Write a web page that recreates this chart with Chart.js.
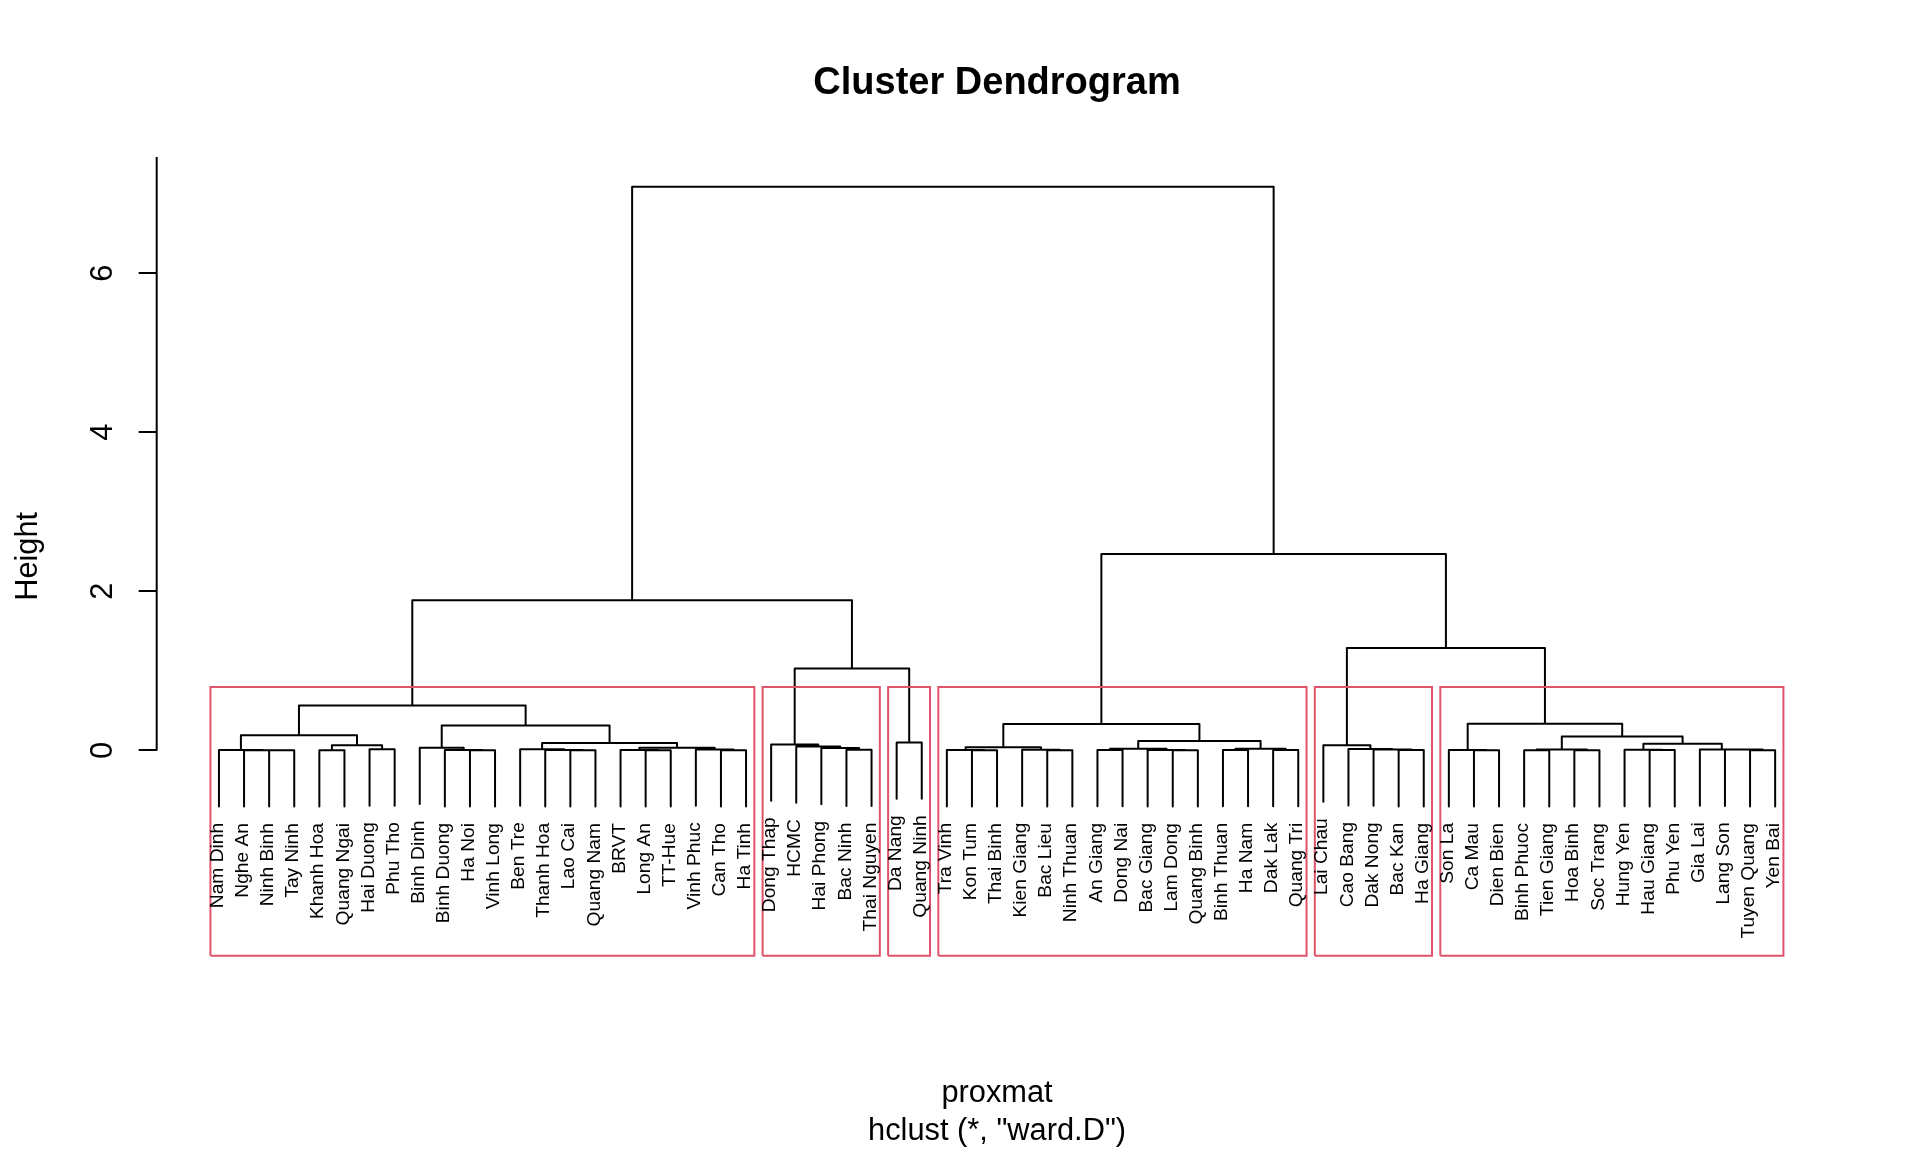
<!DOCTYPE html>
<html>
<head>
<meta charset="utf-8">
<script src="https://cdn.jsdelivr.net/npm/chart.js@4.4.1/dist/chart.umd.min.js"></script>
<style>
html,body{margin:0;padding:0;background:#ffffff;}
#wrap{width:1920px;height:1152px;position:relative;}
</style>
</head>
<body>
<div id="wrap"><canvas id="c"></canvas></div>
<script>
// ---- data (leaf order as drawn, R hclust-style merges: negative = leaf, positive = earlier merge) ----
const leafLabels = [
  "Nam Dinh","Nghe An","Ninh Binh","Tay Ninh","Khanh Hoa","Quang Ngai","Hai Duong","Phu Tho",
  "Binh Dinh","Binh Duong","Ha Noi","Vinh Long","Ben Tre","Thanh Hoa","Lao Cai","Quang Nam",
  "BRVT","Long An","TT-Hue","Vinh Phuc","Can Tho","Ha Tinh",
  "Dong Thap","HCMC","Hai Phong","Bac Ninh","Thai Nguyen",
  "Da Nang","Quang Ninh",
  "Tra Vinh","Kon Tum","Thai Binh","Kien Giang","Bac Lieu","Ninh Thuan","An Giang","Dong Nai",
  "Bac Giang","Lam Dong","Quang Binh","Binh Thuan","Ha Nam","Dak Lak","Quang Tri",
  "Lai Chau","Cao Bang","Dak Nong","Bac Kan","Ha Giang",
  "Son La","Ca Mau","Dien Bien","Binh Phuoc","Tien Giang","Hoa Binh","Soc Trang","Hung Yen",
  "Hau Giang","Phu Yen","Gia Lai","Lang Son","Tuyen Quang","Yen Bai"
];
const merges = [
  [-3,-4],[-2,1],[-1,2],[-5,-6],[-7,-8],[4,5],[3,6],
  [-11,-12],[-10,8],[-9,9],
  [-15,-16],[-14,11],[-13,12],
  [-18,-19],[-17,14],[-21,-22],[-20,16],[15,17],
  [13,18],[10,19],[7,20],
  [-26,-27],[-25,22],[-24,23],[-23,24],
  [-28,-29],[25,26],[21,27],
  [-31,-32],[-30,29],[-34,-35],[-33,31],[30,32],
  [-36,-37],[-39,-40],[-38,35],[34,36],
  [-41,-42],[-43,-44],[38,39],[37,40],[33,41],
  [-48,-49],[-47,43],[-46,44],[-45,45],
  [-51,-52],[-50,47],
  [-53,-54],[-55,-56],[49,50],
  [-58,-59],[-57,52],[-62,-63],[-61,54],[-60,55],[53,56],
  [51,57],[48,58],[46,59],[42,60],[28,61]
];
const mergeHeights = [
  0.002,0.003,0.004,0.003,0.013,0.065,0.19,
  0.002,0.004,0.034,
  0.002,0.004,0.013,
  0.002,0.004,0.003,0.012,0.032,
  0.092,0.314,0.563,
  0.008,0.03,0.05,0.075,
  0.10,1.03,1.887,
  0.002,0.004,0.003,0.008,0.04,
  0.006,0.002,0.004,0.02,
  0.005,0.006,0.02,0.117,0.333,
  0.004,0.012,0.016,0.063,
  0.002,0.004,
  0.003,0.003,0.012,
  0.004,0.007,0.002,0.01,0.012,0.084,
  0.176,0.335,1.287,2.47,7.085
];
const clusterSizes = [22,5,2,15,5,14];
const yTicks = [0,2,4,6];
const yRange = [-2.581, 7.459];
const titleText = "Cluster Dendrogram";
const xTitle = "proxmat";
const subTitle = 'hclust (*, "ward.D")';
const yTitle = "Height";

// ---- build dendrogram segments in data units ----
const nLeaf = leafLabels.length;
const hMax = Math.max(...mergeHeights), hMin = Math.min(...mergeHeights);
const hang = 0.1 * (hMax - hMin);
const nodeX = [];
const leafBottom = new Array(nLeaf + 1);
const treePoints = [];
merges.forEach((m, i) => {
  const h = mergeHeights[i];
  const ends = m.map(c => {
    if (c < 0) { leafBottom[-c] = h - hang; return {x: -c, y: h - hang}; }
    return {x: nodeX[c - 1], y: mergeHeights[c - 1]};
  });
  nodeX[i] = (ends[0].x + ends[1].x) / 2;
  treePoints.push(
    {x: ends[0].x, y: ends[0].y}, {x: ends[0].x, y: h},
    {x: ends[1].x, y: h}, {x: ends[1].x, y: ends[1].y},
    {x: ends[1].x, y: null}
  );
});
// rect.hclust(k = 6)
const sortedH = [...mergeHeights].sort((a, b) => b - a);
const k = clusterSizes.length;
const rectTop = (sortedH[k - 2] + sortedH[k - 1]) / 2;
const rectPoints = [];
let cum = 0;
clusterSizes.forEach(s => {
  const l = cum + 0.66, r = cum + s + 0.33;
  rectPoints.push({x:l,y:yRange[0]},{x:l,y:rectTop},{x:r,y:rectTop},{x:r,y:yRange[0]},{x:l,y:yRange[0]},{x:l,y:null});
  cum += s;
});

const FONT = "'Liberation Sans', Arial, Helvetica, sans-serif";

const textPlugin = {
  id: 'dendroText',
  afterDraw(chart) {
    const {ctx, chartArea: a, scales: {x, y}} = chart;
    ctx.save();
    ctx.fillStyle = '#000';
    ctx.strokeStyle = '#000';
    ctx.lineWidth = 2;
    // y axis line (from first tick up to top of plot region)
    ctx.beginPath();
    ctx.moveTo(a.left, y.getPixelForValue(yTicks[0]));
    ctx.lineTo(a.left, a.top);
    ctx.stroke();
    // y tick labels (parallel to axis)
    ctx.font = `30.8px ${FONT}`;
    ctx.textAlign = 'center';
    ctx.textBaseline = 'alphabetic';
    yTicks.forEach(v => {
      ctx.save();
      ctx.translate(111.5, y.getPixelForValue(v));
      ctx.rotate(-Math.PI / 2);
      ctx.fillText(String(v), 0, 0);
      ctx.restore();
    });
    // y title
    ctx.save();
    ctx.translate(36.5, (a.top + a.bottom) / 2);
    ctx.rotate(-Math.PI / 2);
    ctx.fillText(yTitle, 0, 0);
    ctx.restore();
    // title
    const cx = (a.left + a.right) / 2;
    ctx.font = `bold 38px ${FONT}`;
    ctx.fillText(titleText, cx, 93.5);
    // x titles
    ctx.font = `30.8px ${FONT}`;
    ctx.fillText(xTitle, cx, 1101.5);
    ctx.fillText(subTitle, cx, 1140);
    // leaf labels
    const lf = 19.2;
    ctx.font = `${lf}px ${FONT}`;
    ctx.textAlign = 'right';
    const cap = 0.716 * lf;
    leafLabels.forEach((lab, i) => {
      const px = x.getPixelForValue(i + 1);
      const py = y.getPixelForValue(leafBottom[i + 1]) + 16.5;
      ctx.save();
      ctx.translate(px, py);
      ctx.rotate(-Math.PI / 2);
      ctx.fillText(lab, 0, 0.3 * cap);
      ctx.restore();
    });
    ctx.restore();
  }
};

new Chart(document.getElementById('c'), {
  type: 'line',
  data: {
    datasets: [
      {
        data: rectPoints, borderColor: '#DF536B', borderWidth: 2, pointRadius: 0,
        fill: false, tension: 0, spanGaps: false, clip: false, order: 0,
        borderJoinStyle: 'miter'
      },
      {
        data: treePoints, borderColor: '#000000', borderWidth: 2, pointRadius: 0,
        fill: false, tension: 0, spanGaps: false, order: 1,
        borderCapStyle: 'round', borderJoinStyle: 'round'
      }
    ]
  },
  options: {
    responsive: true, maintainAspectRatio: false, animation: false,
    events: [],
    layout: {padding: {top: 157, right: 82.6, bottom: 196.3, left: 0}},
    plugins: {legend: {display: false}, tooltip: {enabled: false}, title: {display: false}},
    scales: {
      x: {type: 'linear', min: 1 - 0.04 * (nLeaf - 1), max: nLeaf + 0.04 * (nLeaf - 1), display: false},
      y: {
        type: 'linear', min: yRange[0], max: yRange[1], position: 'left',
        afterBuildTicks: s => { s.ticks = yTicks.map(v => ({value: v})); },
        afterFit: s => { s.width = 156.7; },
        ticks: {display: false},
        grid: {drawOnChartArea: false, drawTicks: true, tickLength: 18, color: '#000', lineWidth: 2},
        border: {display: false}
      }
    }
  },
  plugins: [textPlugin]
});
</script>
</body>
</html>
